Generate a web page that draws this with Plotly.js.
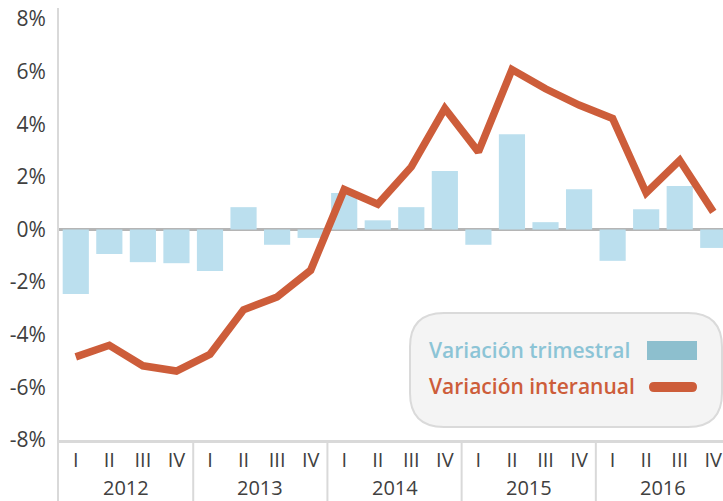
<!DOCTYPE html>
<html><head><meta charset="utf-8">
<script src="https://cdn.plot.ly/plotly-3.0.1.min.js"></script>
<style>html,body{margin:0;padding:0;background:#fff;}#chart{width:723px;height:501px;}</style>
</head><body><div id="chart"></div>
<script>
const years = ["2012","2013","2014","2015","2016"];
const quarters = ["I","II","III","IV"];
const trimestral = [-2.45,-0.93,-1.24,-1.28, -1.58,0.85,-0.58,-0.32, 1.39,0.35,0.85,2.22, -0.58,3.62,0.28,1.53, -1.19,0.77,1.65,-0.70];
const interanual = [-4.84,-4.40,-5.18,-5.38, -4.74,-3.05,-2.56,-1.55, 1.52,0.96,2.38,4.60, 2.95,6.08,5.35,4.73, 4.22,1.39,2.63,0.67];
const yTicks = [-8,-6,-4,-2,0,2,4,6,8];

const categories = [], qLabels = [];
years.forEach(y => quarters.forEach(q => { categories.push(y + " " + q); qLabels.push(q); }));

const W = 723, H = 501, L = 59, R = 0, T = 8, B = 61;
const pw = W - L - R, ph = H - T - B;
const xr = [-0.5, 19.29];
const px = v => (v - L) / pw;
const py = v => (H - B - v) / ph;
const ix = i => (i - xr[0]) / (xr[1] - xr[0]);

const font = "Open Sans, sans-serif";
const traces = [
  {type:"bar", x:categories, y:trimestral, marker:{color:"#bbdfee"}, name:"Variación trimestral", hoverinfo:"skip"},
  {type:"scatter", mode:"lines", x:categories, y:interanual, line:{color:"#cd5d3a", width:7.5}, name:"Variación interanual", hoverinfo:"skip"}
];

const shapes = [];
[3.5,7.5,11.5,15.5].forEach(b => shapes.push({type:"line", xref:"paper", yref:"paper", x0:ix(b), x1:ix(b), y0:0, y1:py(H), line:{color:"#d9d9d9", width:2}}));
shapes.push({type:"line", xref:"paper", yref:"paper", x0:px(58), x1:px(58), y0:0, y1:py(H), line:{color:"#d9d9d9", width:2}});

// legend box (rounded)
const bx0 = 410, bx1 = 722, by0 = 313, by1 = 427, r = 34;
const path = `M ${px(bx0+r)} ${py(by0)} L ${px(bx1-r)} ${py(by0)} Q ${px(bx1)} ${py(by0)} ${px(bx1)} ${py(by0+r)} L ${px(bx1)} ${py(by1-r)} Q ${px(bx1)} ${py(by1)} ${px(bx1-r)} ${py(by1)} L ${px(bx0+r)} ${py(by1)} Q ${px(bx0)} ${py(by1)} ${px(bx0)} ${py(by1-r)} L ${px(bx0)} ${py(by0+r)} Q ${px(bx0)} ${py(by0)} ${px(bx0+r)} ${py(by0)} Z`;
shapes.push({type:"path", xref:"paper", yref:"paper", path:path, fillcolor:"#f4f4f4", line:{color:"#dadada", width:2}});
shapes.push({type:"rect", xref:"paper", yref:"paper", x0:px(647), x1:px(697), y0:py(341), y1:py(360), fillcolor:"#8dbfce", line:{width:0}});
const sx0 = 649, sx1 = 697, sy0 = 382, sy1 = 392, sr = 5;
const pill = `M ${px(sx0+sr)} ${py(sy0)} L ${px(sx1-sr)} ${py(sy0)} Q ${px(sx1)} ${py(sy0)} ${px(sx1)} ${py(sy0+sr)} Q ${px(sx1)} ${py(sy1)} ${px(sx1-sr)} ${py(sy1)} L ${px(sx0+sr)} ${py(sy1)} Q ${px(sx0)} ${py(sy1)} ${px(sx0)} ${py(sy0+sr)} Q ${px(sx0)} ${py(sy0)} ${px(sx0+sr)} ${py(sy0)} Z`;
shapes.push({type:"path", xref:"paper", yref:"paper", path:pill, fillcolor:"#cd5d3a", line:{width:0}});

const annotations = [];
years.forEach((y, k) => annotations.push({xref:"paper", yref:"paper", x:ix(k*4+1.5), y:py(487), text:y, showarrow:false, xanchor:"center", yanchor:"middle", font:{family:font, size:20, color:"#404040"}}));
annotations.push({xref:"paper", yref:"paper", x:px(427), y:py(350), text:"Variación trimestral", showarrow:false, xanchor:"left", yanchor:"middle", font:{family:font, size:21, color:"#8cc4d6", weight:600}});
annotations.push({xref:"paper", yref:"paper", x:px(427), y:py(386), text:"Variación interanual", showarrow:false, xanchor:"left", yanchor:"middle", font:{family:font, size:21, color:"#cd5d3a", weight:600}});

const layout = {
  width: W, height: H,
  margin:{l:L, r:R, t:T, b:B, pad:0},
  paper_bgcolor:"#fff", plot_bgcolor:"#fff",
  showlegend:false, bargap:0.22,
  font:{family:font, color:"#404040"},
  xaxis:{type:"category", range:xr, tickmode:"array", tickvals:categories, ticktext:qLabels, showgrid:false, zeroline:false,
         showline:true, linecolor:"#d9d9d9", linewidth:3, ticks:"", tickfont:{family:font, size:20, color:"#404040"}, fixedrange:true},
  yaxis:{range:[-8, 8.42], tickmode:"array", tickvals:yTicks, ticktext:yTicks.map(v => v + "%"), showgrid:false,
         zeroline:true, zerolinecolor:"#b5b5b5", zerolinewidth:2.5, showline:true, linecolor:"#d9d9d9", linewidth:2,
         ticks:"", ticklabelstandoff:7, tickfont:{family:font, size:21, color:"#404040"}, fixedrange:true},
  shapes: shapes, annotations: annotations
};
Plotly.newPlot("chart", traces, layout, {displayModeBar:false, staticPlot:true});
</script></body></html>
